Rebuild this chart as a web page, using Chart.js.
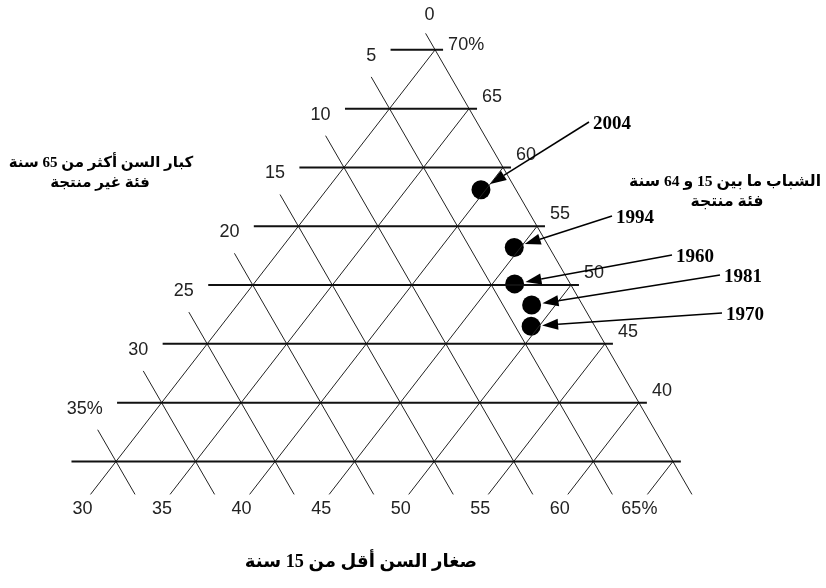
<!DOCTYPE html>
<html>
<head>
<meta charset="utf-8">
<script src="https://cdn.jsdelivr.net/npm/chart.js@4.4.0/dist/chart.umd.min.js"></script>
<style>
  html, body { margin: 0; padding: 0; background: #fff; }
  #wrap { width: 826px; height: 588px; }
</style>
</head>
<body>
<div id="wrap"><canvas id="chartTernary" width="826" height="588"></canvas></div>
<script>
// census years and age structure (%)
const years = ['1960', '1970', '1981', '1994', '2004'];
const young = [46.4, 49.5, 48.5, 44.6, 39.7];    // under 15
const adults = [50.1, 46.5, 48.3, 53.2, 58.1];   // 15 - 64
const elderly = [3.5, 4.0, 3.2, 2.2, 2.2];       // 65 and over

// grid values of the three axes
const elderlyTicks = [0, 5, 10, 15, 20, 25, 30, 35];
const elderlyLabels = ['0', '5', '10', '15', '20', '25', '30', '35%'];
const adultTicks = [70, 65, 60, 55, 50, 45, 40, 35];
const adultLabels = ['70%', '65', '60', '55', '50', '45', '40', ''];
const youngTicks = [30, 35, 40, 45, 50, 55, 60, 65];
const youngLabels = ['30', '35', '40', '45', '50', '55', '60', '65%'];

// titles
const elderlyTitle = ['كبار السن أكثر من 65 سنة', 'فئة غير منتجة'];
const adultTitle = ['الشباب ما بين 15 و 64 سنة', 'فئة منتجة'];
const youngTitle = 'صغار السن أقل من 15 سنة';

// where the year labels sit (layout only)
const yearLabelAt = {
  '2004': [612, 124],
  '1994': [635, 218],
  '1960': [695, 257],
  '1981': [743, 277],
  '1970': [745, 315]
};

// skewed ternary projection: x = young + skew * adults, y = adults
const SKEW = 0.573;
function toXY(yg, ad) { return { x: yg + SKEW * ad, y: ad }; }
function fromEA(e, ad) { return toXY(100 - e - ad, ad); }

function lineSet(pts, width, color) {
  return {
    data: pts,
    showLine: true,
    borderColor: color,
    borderWidth: width,
    pointRadius: 0,
    pointHoverRadius: 0,
    fill: false
  };
}

const datasets = [];
adultTicks.forEach(a => {
  datasets.push(lineSet([toXY(27.2, a), fromEA(-0.5, a)], 2, '#111'));
});
elderlyTicks.forEach(e => {
  const top = Math.min(72.7 - e, 71.4);
  datasets.push(lineSet([fromEA(e, top), fromEA(e, 32.2)], 1, '#222'));
});
youngTicks.forEach(yg => {
  datasets.push(lineSet([toXY(yg, 100 - yg), toXY(yg, 32.2)], 1, '#222'));
});
datasets.push({
  label: 'years',
  data: years.map((_, i) => toXY(young[i], adults[i])),
  showLine: false,
  pointRadius: 9.5,
  pointHoverRadius: 9.5,
  pointBackgroundColor: '#000',
  pointBorderColor: '#000',
  pointBorderWidth: 0
});

// draw an RTL line scaled to a given width
function fitText(ctx, text, cx, cy, width, base) {
  ctx.font = 'bold ' + base + 'px "Liberation Serif", "DejaVu Sans", serif';
  const size = base * width / ctx.measureText(text).width;
  ctx.font = 'bold ' + size.toFixed(1) + 'px "Liberation Serif", "DejaVu Sans", serif';
  ctx.fillText(text, cx, cy);
  return size;
}

const overlay = {
  id: 'overlay',
  afterDatasetsDraw(chart) {
    const { ctx, scales } = chart;
    const px = p => [scales.x.getPixelForValue(p.x), scales.y.getPixelForValue(p.y)];
    ctx.save();

    // tick labels
    ctx.font = '18px "Liberation Sans", Arial, sans-serif';
    ctx.fillStyle = '#222';
    ctx.textBaseline = 'middle';
    elderlyTicks.forEach((e, i) => {
      const top = Math.min(72.7 - e, 71.4);
      const [x, y] = px(fromEA(e, top));
      if (e === 0) {
        ctx.textAlign = 'center';
        ctx.fillText(elderlyLabels[i], x + 4, y - 18);
      } else {
        ctx.textAlign = 'right';
        ctx.fillText(elderlyLabels[i], x + 5, y - 21);
      }
    });
    ctx.textAlign = 'left';
    adultTicks.forEach((a, i) => {
      const [x, y] = px(fromEA(0, a));
      ctx.fillText(adultLabels[i], x + 13, a === 70 ? y - 5 : y - 12);
    });
    ctx.textAlign = 'center';
    youngTicks.forEach((yg, i) => {
      const [x, y] = px(toXY(yg, 32.2));
      ctx.fillText(youngLabels[i], x - 8, y + 15);
    });

    // year labels with arrows
    ctx.font = 'bold 19px "Liberation Serif", "Times New Roman", serif';
    ctx.fillStyle = '#000';
    ctx.strokeStyle = '#000';
    ctx.lineWidth = 1.5;
    years.forEach((yr, i) => {
      const [lx, ly] = yearLabelAt[yr];
      ctx.textAlign = 'center';
      ctx.fillText(yr, lx, ly);
      const w = ctx.measureText(yr).width;
      const sx = lx - w / 2 - 4, sy = ly - 2;
      const [cx, cy] = px(toXY(young[i], adults[i]));
      const dx = sx - cx, dy = sy - cy;
      const len = Math.hypot(dx, dy);
      const ux = dx / len, uy = dy / len;
      const tx = cx + ux * 11, ty = cy + uy * 11;
      const bx = tx + ux * 16, by = ty + uy * 16;
      ctx.beginPath();
      ctx.moveTo(sx, sy);
      ctx.lineTo(bx, by);
      ctx.stroke();
      ctx.beginPath();
      ctx.moveTo(tx, ty);
      ctx.lineTo(bx - uy * 5.5, by + ux * 5.5);
      ctx.lineTo(bx + uy * 5.5, by - ux * 5.5);
      ctx.closePath();
      ctx.fill();
    });

    // arabic titles
    ctx.direction = 'rtl';
    ctx.textAlign = 'center';
    const s1 = fitText(ctx, elderlyTitle[0], 101, 163, 185, 16);
    ctx.font = 'bold ' + s1.toFixed(1) + 'px "Liberation Serif", "DejaVu Sans", serif';
    ctx.fillText(elderlyTitle[1], 100, 183);
    const s2 = fitText(ctx, adultTitle[0], 725, 182, 192, 16);
    ctx.font = 'bold ' + s2.toFixed(1) + 'px "Liberation Serif", "DejaVu Sans", serif';
    ctx.fillText(adultTitle[1], 727, 202);
    fitText(ctx, youngTitle, 361, 562, 232, 17);
    ctx.restore();
  }
};

const ctx = document.getElementById('chartTernary');
const ternaryChart = new Chart(ctx, {
  type: 'scatter',
  data: { datasets: datasets },
  options: {
    responsive: false,
    animation: false,
    devicePixelRatio: 1,
    layout: { padding: 0 },
    events: [],
    plugins: {
      legend: { display: false },
      tooltip: { enabled: false }
    },
    // the point radius adds ~9.5px of padding round the plot area
    scales: {
      x: { type: 'linear', display: false, min: 43.36, max: 94.08 },
      y: { type: 'linear', display: false, min: 25.05, max: 73.43 }
    }
  },
  plugins: [overlay]
});
</script>
</body>
</html>
